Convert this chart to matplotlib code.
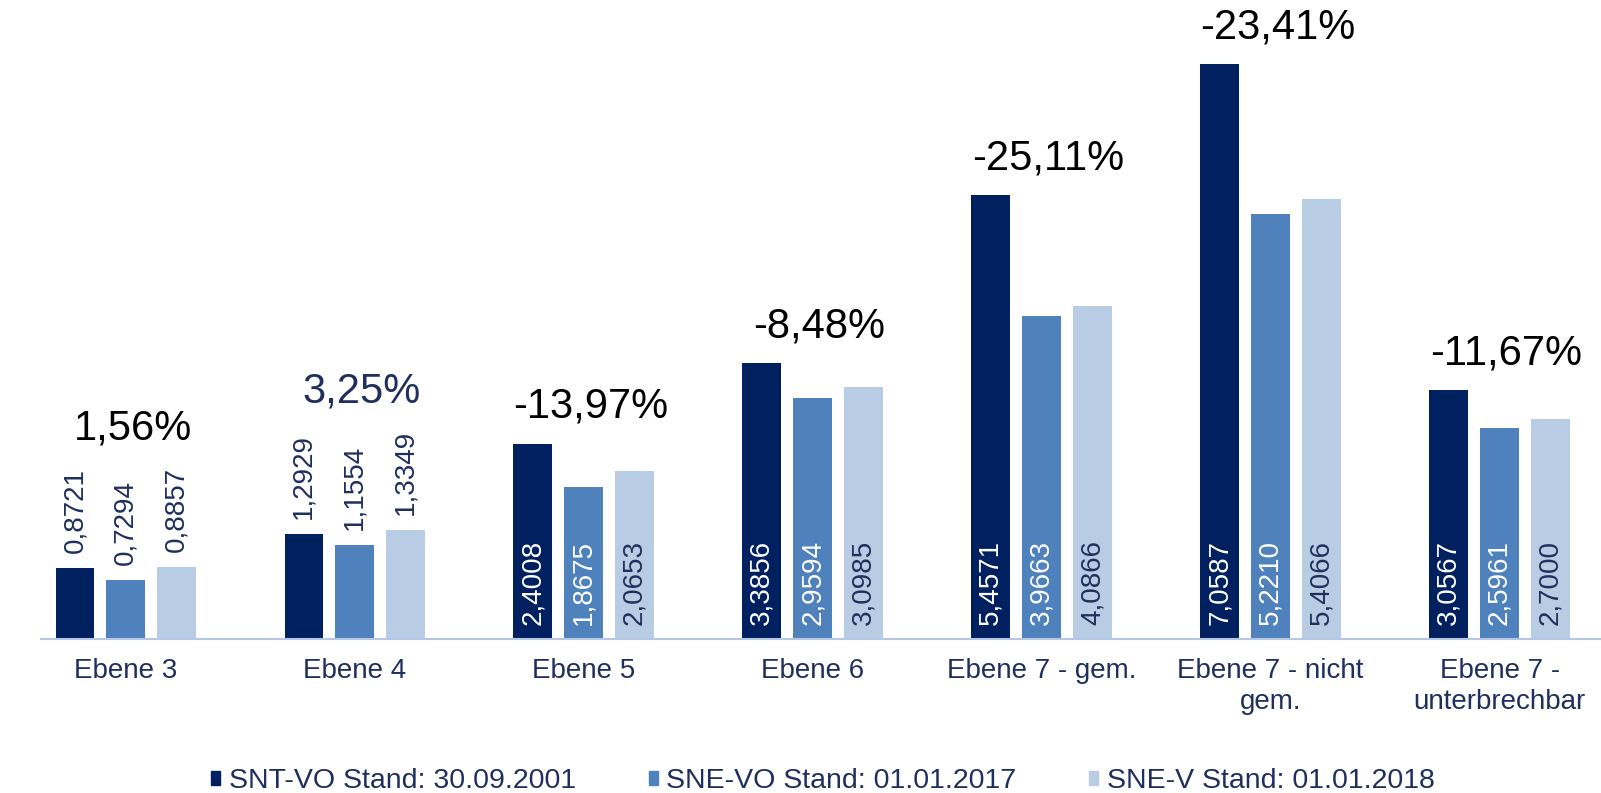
import numpy as np
import matplotlib as mpl
mpl.use('Agg')
import matplotlib.pyplot as plt
from matplotlib.patches import Patch

plt.rcParams['font.family'] = ['Liberation Sans', 'DejaVu Sans']

categories = ['Ebene 3', 'Ebene 4', 'Ebene 5', 'Ebene 6', 'Ebene 7 - gem.',
              'Ebene 7 - nicht\ngem.', 'Ebene 7 -\nunterbrechbar']
snt_2001 = [0.8721, 1.2929, 2.4008, 3.3856, 5.4571, 7.0587, 3.0567]
sne_2017 = [0.7294, 1.1554, 1.8675, 2.9594, 3.9663, 5.2210, 2.5961]
sne_2018 = [0.8857, 1.3349, 2.0653, 3.0985, 4.0866, 5.4066, 2.7000]
series_names = ['SNT-VO Stand: 30.09.2001', 'SNE-VO Stand: 01.01.2017',
                'SNE-V Stand: 01.01.2018']

c_dark = '#002060'
c_mid = '#4F81BD'
c_light = '#B8CCE4'
navy = '#1F2F5E'

def fmt(v, nd):
    return ('%.*f' % (nd, v)).replace('.', ',')

fig = plt.figure(figsize=(16.01, 7.93), dpi=100)
ax = fig.add_axes([41/1601, 154/793, 1 - 41/1601, 1 - 154/793])

pos = np.arange(len(categories))
w = 0.169
off = 0.222
series = [snt_2001, sne_2017, sne_2018]
colors = [c_dark, c_mid, c_light]
inside_col = ['white', 'white', navy]

for k, (vals, col) in enumerate(zip(series, colors)):
    xs = pos + (k - 1) * off
    ax.bar(xs, vals, width=w, color=col, zorder=2)
    for x, v in zip(xs, vals):
        if v > 1.6:
            # label inside the bar, from the bottom
            ax.annotate(fmt(v, 4), (x, 0), xytext=(0, 14), textcoords='offset pixels',
                        rotation=90, ha='center', va='bottom', fontsize=20,
                        color=inside_col[k], zorder=3)
        else:
            ax.annotate(fmt(v, 4), (x, v), xytext=(0, 15), textcoords='offset pixels',
                        rotation=90, ha='center', va='bottom', fontsize=20,
                        color=navy, zorder=3)

# percentage change 2001 -> 2018
for i in range(len(categories)):
    pct = (sne_2018[i] - snt_2001[i]) / snt_2001[i] * 100
    top = max(snt_2001[i], sne_2017[i], sne_2018[i])
    y = top + (1.7 if top < 1.6 else 0.45)
    col = navy if i == 1 else 'black'
    ax.text(pos[i] + 0.03, y, fmt(pct, 2) + '%', ha='center', va='center',
            fontsize=30, color=col)

ax.set_xlim(-0.37, 6.443)
ax.set_ylim(0, 7.85)
ax.set_xticks(pos)
ax.set_xticklabels(categories, fontsize=20, color=navy, linespacing=1.25)
ax.tick_params(axis='x', length=0, pad=14)
ax.set_yticks([])
for s in ['top', 'left', 'right']:
    ax.spines[s].set_visible(False)
ax.spines['bottom'].set_color('#B4C7E7')
ax.spines['bottom'].set_linewidth(1.5)

handles = [Patch(color=c) for c in colors]
fig.legend(handles, series_names, loc='center', bbox_to_anchor=(0.514, 1 - 781/793),
           ncol=3, frameon=False, fontsize=20.5, handlelength=0.32, handleheight=0.4,
           handletextpad=0.3, columnspacing=2.55, labelcolor=navy)

plt.savefig('out.png', dpi=100)
